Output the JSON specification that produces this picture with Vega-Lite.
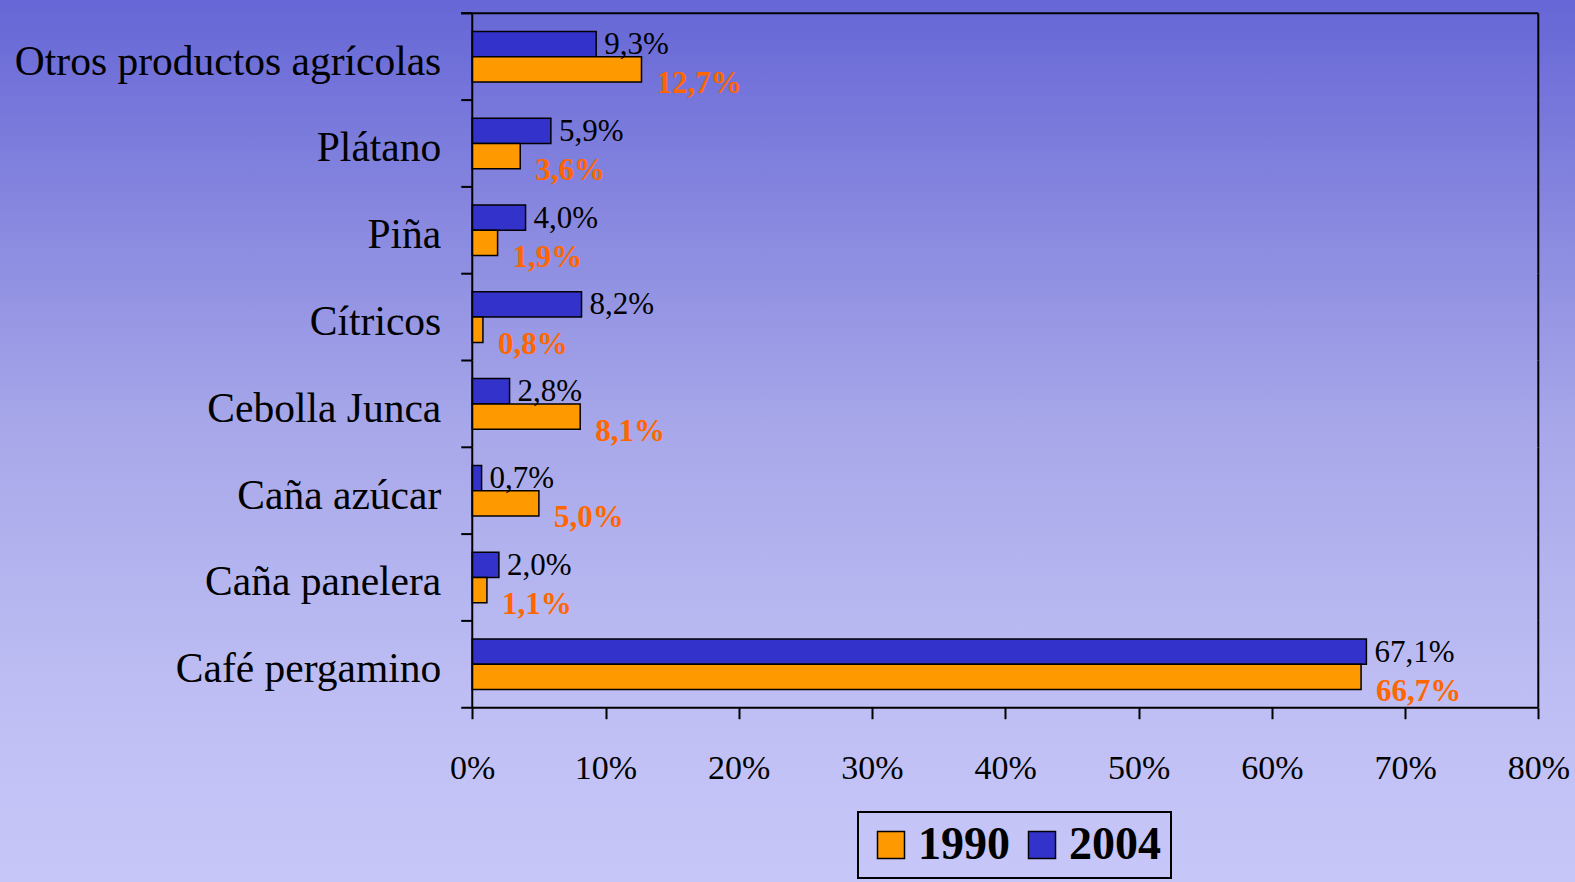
{
  "$schema": "https://vega.github.io/schema/vega-lite/v6.json",
  "width": 1575,
  "height": 868,
  "autosize": {"type": "none"},
  "padding": {"left": 0, "top": 0, "right": 0, "bottom": 14},
  "background": "#c6c6f8",
  "config": {
    "font": "Liberation Serif",
    "view": {
      "stroke": null,
      "fill": {
        "gradient": "linear",
        "x1": 0, "y1": 0, "x2": 0, "y2": 1,
        "stops": [
          {"offset": 0, "color": "#6666d6"},
          {"offset": 0.25, "color": "#8888e0"},
          {"offset": 0.5, "color": "#a8a8ea"},
          {"offset": 0.8, "color": "#bebef4"},
          {"offset": 1, "color": "#c6c6f8"}
        ]
      }
    }
  },
  "data": {
    "values": [
      {"cat": "Otros productos agrícolas", "year": "2004", "value": 9.3, "label": "9,3%"},
      {"cat": "Otros productos agrícolas", "year": "1990", "value": 12.7, "label": "12,7%"},
      {"cat": "Plátano", "year": "2004", "value": 5.9, "label": "5,9%"},
      {"cat": "Plátano", "year": "1990", "value": 3.6, "label": "3,6%"},
      {"cat": "Piña", "year": "2004", "value": 4.0, "label": "4,0%"},
      {"cat": "Piña", "year": "1990", "value": 1.9, "label": "1,9%"},
      {"cat": "Cítricos", "year": "2004", "value": 8.2, "label": "8,2%"},
      {"cat": "Cítricos", "year": "1990", "value": 0.8, "label": "0,8%"},
      {"cat": "Cebolla Junca", "year": "2004", "value": 2.8, "label": "2,8%"},
      {"cat": "Cebolla Junca", "year": "1990", "value": 8.1, "label": "8,1%"},
      {"cat": "Caña azúcar", "year": "2004", "value": 0.7, "label": "0,7%"},
      {"cat": "Caña azúcar", "year": "1990", "value": 5.0, "label": "5,0%"},
      {"cat": "Caña panelera", "year": "2004", "value": 2.0, "label": "2,0%"},
      {"cat": "Caña panelera", "year": "1990", "value": 1.1, "label": "1,1%"},
      {"cat": "Café pergamino", "year": "2004", "value": 67.1, "label": "67,1%"},
      {"cat": "Café pergamino", "year": "1990", "value": 66.7, "label": "66,7%"}
    ]
  },
  "resolve": {"scale": {"x": "shared", "y": "shared"}},
  "layer": [
    {
      "mark": {"type": "bar", "stroke": "black", "strokeWidth": 1.5},
      "encoding": {
        "x": {
          "field": "value", "type": "quantitative",
          "scale": {"domain": [-35.44, 82.754], "nice": false, "zero": false},
          "axis": {
            "orient": "bottom", "offset": -160.3, "values": [0, 10, 20, 30, 40, 50, 60, 70, 80],
            "labelExpr": "datum.value + '%'", "domain": false, "grid": false,
            "tickSize": 11, "tickWidth": 2, "tickColor": "black",
            "labelFontSize": 34, "labelColor": "black", "labelFont": "Liberation Serif",
            "labelPadding": 33, "title": null, "labelFlush": false, "labelOverlap": false
          }
        },
        "x2": {"datum": 0},
        "y": {
          "field": "cat", "type": "nominal", "sort": null,
          "scale": {
            "type": "band",
            "domain": ["Otros productos agrícolas", "Plátano", "Piña", "Cítricos", "Cebolla Junca", "Caña azúcar", "Caña panelera", "Café pergamino"],
            "paddingInner": 0, "paddingOuter": 1, "align": 0.0766
          },
          "axis": null
        },
        "yOffset": {
          "field": "year", "type": "nominal",
          "scale": {"domain": ["2004", "1990"], "paddingInner": 0, "paddingOuter": 0.716}
        },
        "color": {
          "field": "year", "type": "nominal",
          "scale": {"domain": ["1990", "2004"], "range": ["#ff9900", "#3333cc"]},
          "legend": {
            "orient": "none", "legendX": 858, "legendY": 812, "direction": "horizontal",
            "title": null, "symbolType": "square", "symbolSize": 729,
            "symbolStrokeColor": "black", "symbolStrokeWidth": 1.5, "symbolOpacity": 1,
            "labelFontSize": 46, "labelFont": "Liberation Serif", "labelFontWeight": "bold",
            "labelColor": "black", "strokeColor": "black", "padding": 10,
            "columnPadding": 9, "labelOffset": 4, "labelLimit": 0,
            "encode": {"legend": {"update": {"strokeWidth": {"value": 2}}}}
          }
        }
      }
    },
    {
      "transform": [{"filter": "datum.year == '2004'"}],
      "mark": {"type": "text", "align": "left", "baseline": "middle", "dx": 8, "dy": 1, "fontSize": 31, "font": "Liberation Serif", "color": "black"},
      "encoding": {
        "x": {"field": "value", "type": "quantitative"},
        "y": {"field": "cat", "type": "nominal", "sort": null},
        "yOffset": {"field": "year", "type": "nominal"},
        "text": {"field": "label"}
      }
    },
    {
      "transform": [{"filter": "datum.year == '1990'"}],
      "mark": {"type": "text", "align": "left", "baseline": "middle", "dx": 15, "dy": 15, "fontSize": 31, "fontWeight": "bold", "font": "Liberation Serif", "color": "#ff6600"},
      "encoding": {
        "x": {"field": "value", "type": "quantitative"},
        "y": {"field": "cat", "type": "nominal", "sort": null},
        "yOffset": {"field": "year", "type": "nominal"},
        "text": {"field": "label"}
      }
    },
    {
      "transform": [{"filter": "datum.year == '2004'"}],
      "mark": {"type": "text", "align": "right", "baseline": "middle", "dx": -31, "dy": 6, "fontSize": 41.5, "font": "Liberation Serif", "color": "black"},
      "encoding": {
        "x": {"datum": 0},
        "y": {"field": "cat", "type": "nominal", "sort": null},
        "text": {"field": "cat"}
      }
    },
    {
      "transform": [{"filter": "datum.year == '2004'"}],
      "mark": {"type": "rule", "color": "black", "strokeWidth": 2},
      "encoding": {
        "x": {"datum": 0},
        "y": {"field": "cat", "type": "nominal", "sort": null, "bandPosition": 0},
        "y2": {"field": "cat", "bandPosition": 1}
      }
    },
    {
      "transform": [{"filter": "datum.year == '2004'"}],
      "mark": {"type": "rule", "color": "black", "strokeWidth": 2},
      "encoding": {
        "x": {"datum": 80},
        "y": {"field": "cat", "type": "nominal", "sort": null, "bandPosition": 0},
        "y2": {"field": "cat", "bandPosition": 1}
      }
    },
    {
      "transform": [{"filter": "datum.year == '2004'"}],
      "mark": {"type": "rule", "color": "black", "strokeWidth": 2},
      "encoding": {
        "x": {"datum": -0.826},
        "x2": {"datum": 0},
        "y": {"field": "cat", "type": "nominal", "sort": null, "bandPosition": 0}
      }
    },
    {
      "transform": [{"filter": "datum.year == '2004' && datum.cat == 'Otros productos agrícolas'"}],
      "mark": {"type": "rule", "color": "black", "strokeWidth": 2},
      "encoding": {
        "x": {"datum": -0.826},
        "x2": {"datum": 80},
        "y": {"field": "cat", "type": "nominal", "sort": null, "bandPosition": 0}
      }
    },
    {
      "transform": [{"filter": "datum.year == '2004' && datum.cat == 'Café pergamino'"}],
      "mark": {"type": "rule", "color": "black", "strokeWidth": 2},
      "encoding": {
        "x": {"datum": -0.826},
        "x2": {"datum": 80},
        "y": {"field": "cat", "type": "nominal", "sort": null, "bandPosition": 1}
      }
    }
  ]
}
